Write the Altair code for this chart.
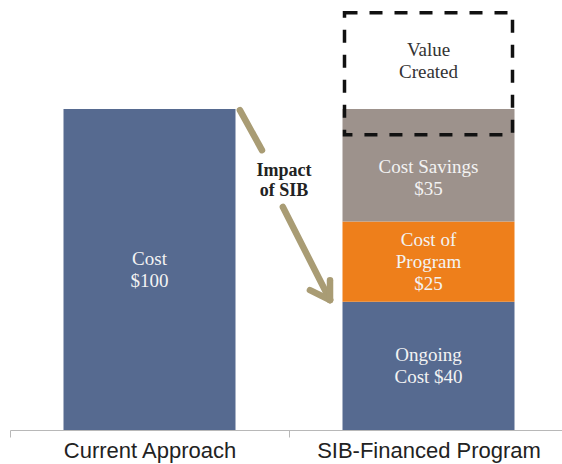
import altair as alt
import pandas as pd

# ---------------- data ----------------
categories = ["Current Approach", "SIB-Financed Program"]

seg_category = ["Current Approach", "SIB-Financed Program", "SIB-Financed Program", "SIB-Financed Program"]
seg_name = ["Cost", "Ongoing Cost", "Cost of Program", "Cost Savings"]
seg_start = [0, 0, 40, 65]
seg_end = [100, 40, 65, 100]
seg_color = ["#566a90", "#566a90", "#ee7f1b", "#9d928c"]

value_category = ["SIB-Financed Program"]
value_start = [92]
value_end = [130]

label_category = ["Current Approach", "SIB-Financed Program", "SIB-Financed Program",
                  "SIB-Financed Program", "SIB-Financed Program"]
label_text = ["Cost\n$100", "Ongoing\nCost $40", "Cost of\nProgram\n$25", "Cost Savings\n$35", "Value\nCreated"]
label_lo = [0, 0, 40, 65, 100]
label_hi = [100, 40, 65, 92, 130]
label_color = ["#f3f3f3", "#f3f3f3", "#f3f3f3", "#f3f3f3", "#333333"]

# arrow segments (x in category-index units, y in value units)
arrow_x = [0.824, 0.978, 1.075, 1.147]
arrow_y = [99.7, 69.5, 43.6, 46.7]
arrow_x2 = [0.903, 1.147, 1.147, 1.147]
arrow_y2 = [87.2, 40.5, 40.5, 40.5]

impact_text = ["Impact\nof SIB"]
impact_x = [0.982]
impact_y = [77.6]

# ---------------- chart ----------------
Y_DOMAIN = [0, 134]
X_RANGE = [0, 558]
LINE_H = 22

seg_df = pd.DataFrame({"category": seg_category, "name": seg_name,
                       "start": seg_start, "end": seg_end, "color": seg_color})
val_df = pd.DataFrame({"category": value_category, "start": value_start, "end": value_end})
lab_df = pd.DataFrame({"category": label_category, "text": label_text,
                       "lo": label_lo, "hi": label_hi, "color": label_color})
arr_df = pd.DataFrame({"x": arrow_x, "y": arrow_y, "x2": arrow_x2, "y2": arrow_y2})
imp_df = pd.DataFrame({"text": impact_text, "x": impact_x, "y": impact_y})

yscale = alt.Scale(domain=Y_DOMAIN, nice=False, zero=True)


def xband(axis):
    return alt.X("category:N",
                 scale=alt.Scale(domain=categories, range=X_RANGE, paddingInner=0, paddingOuter=0),
                 axis=axis)


main_axis = alt.Axis(title=None, labelAngle=0, tickBand="extent", domainColor="#b8b8b8",
                     tickColor="#b8b8b8", tickSize=7, domainWidth=1, tickWidth=1,
                     labelFont="Liberation Sans", labelFontSize=22, labelColor="#222222",
                     labelPadding=3, labelLimit=0, grid=False)

bars = alt.Chart(seg_df).mark_bar(size=172).encode(
    x=xband(main_axis),
    y=alt.Y("start:Q", scale=yscale, axis=None),
    y2="end:Q",
    color=alt.Color("color:N", scale=None),
)

box = alt.Chart(val_df).mark_bar(size=168, fillOpacity=0, stroke="#111111", strokeWidth=3.5,
                                 strokeDash=[13, 12]).encode(
    x=xband(None),
    y=alt.Y("start:Q", scale=yscale, axis=None),
    y2="end:Q",
)


def label_layer(nlines):
    return alt.Chart(lab_df).transform_calculate(
        mid="(datum.lo + datum.hi) / 2",
        nl="length(split(datum.text, '\\n'))",
    ).transform_filter(
        "datum.nl == %d" % nlines
    ).mark_text(font="Liberation Serif", fontSize=19, lineBreak="\n", lineHeight=LINE_H,
                baseline="middle", align="center", dy=-(nlines - 1) * LINE_H / 2).encode(
        x=xband(None),
        y=alt.Y("mid:Q", scale=yscale, axis=None),
        text="text:N",
        color=alt.Color("color:N", scale=None),
    )


xq = alt.Scale(domain=[0, 2], range=X_RANGE, nice=False, zero=False)

arrow = alt.Chart(arr_df).mark_rule(color="#a99c74", strokeWidth=6.5, strokeCap="round").encode(
    x=alt.X("x:Q", scale=xq, axis=None),
    x2="x2:Q",
    y=alt.Y("y:Q", scale=yscale, axis=None),
    y2="y2:Q",
)

impact = alt.Chart(imp_df).mark_text(font="Liberation Serif", fontSize=18, fontWeight="bold",
                                     lineBreak="\n", lineHeight=20, baseline="middle",
                                     align="center", color="#222222", dy=-10).encode(
    x=alt.X("x:Q", scale=xq, axis=None),
    y=alt.Y("y:Q", scale=yscale, axis=None),
    text="text:N",
)

chart = alt.layer(bars, box, label_layer(2), label_layer(3), arrow, impact).resolve_scale(
    x="independent"
).properties(
    width=552,
    height=430,
    padding={"left": 10, "top": 0, "right": 0, "bottom": 34},
    autosize=alt.AutoSizeParams(type="none"),
).configure_view(stroke=None)

chart.save("out.html", embed_options={"renderer": "svg", "actions": False})
